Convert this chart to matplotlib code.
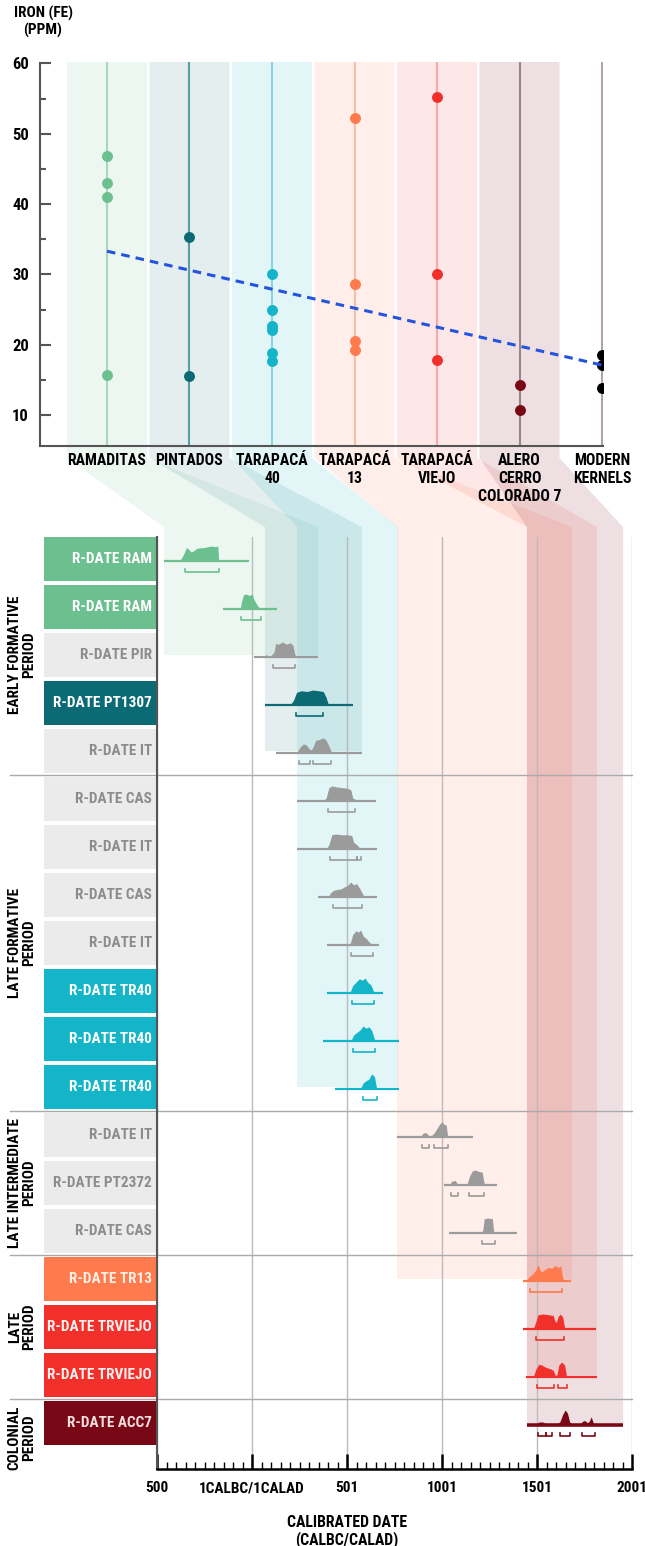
import matplotlib
matplotlib.use("Agg")
import matplotlib.pyplot as plt
from matplotlib import font_manager, transforms
from matplotlib.patches import Polygon, Rectangle
from matplotlib.ticker import MultipleLocator, FixedLocator

# ---------------- data: iron content per site ----------------
sites = ["RAMADITAS", "PINTADOS", "TARAPACÁ\n40", "TARAPACÁ\n13", "TARAPACÁ\nVIEJO",
         "ALERO\nCERRO\nCOLORADO 7", "MODERN\nKERNELS"]
iron_ppm = [
    [46.8, 43.0, 41.0, 15.7],
    [35.3, 15.6],
    [30.1, 25.0, 22.7, 22.1, 18.8, 17.7],
    [52.3, 28.7, 20.5, 19.3],
    [55.3, 30.0, 17.8],
    [14.2, 10.7],
    [18.5, 17.1, 13.8],
]
trend_ppm = [33.3, 17.1]  # dashed line, first site -> last site

# calibrated-date columns linked to each site (years, and the row where the column stops)
column_years = [(-463, 347), (68, 579), (237, 768), (763, 1684), (1447, 1816), (1447, 1953)]
column_end_row = [2.5, 4.5, 11.5, 15.5, 17.5, 18.5]

# ---------------- data: radiocarbon dates ----------------
date_labels = ["R-DATE RAM", "R-DATE RAM", "R-DATE PIR", "R-DATE PT1307", "R-DATE IT",
               "R-DATE CAS", "R-DATE IT", "R-DATE CAS", "R-DATE IT",
               "R-DATE TR40", "R-DATE TR40", "R-DATE TR40",
               "R-DATE IT", "R-DATE PT2372", "R-DATE CAS",
               "R-DATE TR13", "R-DATE TRVIEJO", "R-DATE TRVIEJO", "R-DATE ACC7"]
date_site = [0, 0, None, 1, None, None, None, None, None, 2, 2, 2,
             None, None, None, 3, 4, 4, 5]
periods = ["EARLY FORMATIVE\nPERIOD", "LATE FORMATIVE\nPERIOD",
           "LATE INTERMEDIATE\nPERIOD", "LATE\nPERIOD", "COLONIAL\nPERIOD"]
period_rows = [5, 7, 3, 3, 1]

date_range = [(-463, -16), (-153, 132), (11, 347), (68, 532), (126, 579),
              (237, 653), (237, 658), (347, 658), (395, 668), (395, 689),
              (374, 774), (437, 774), (763, 1163), (1011, 1289), (1037, 1395),
              (1426, 1679), (1426, 1810), (1442, 1815), (1447, 1953)]

curve_years = [
    [-380, -360, -345, -335, -320, -305, -290, -250, -215, -195, -180, -176, -130],
    [-62, -55, -45, -30, -15, 0, 8, 20, 33, 45, 60],
    [60, 72, 85, 100, 115, 125, 140, 160, 180, 200, 215, 225, 232],
    [200, 218, 235, 260, 290, 320, 350, 375, 390, 400, 430],
    [235, 250, 270, 285, 300, 310, 320, 335, 355, 370, 385, 400, 415, 425],
    [375, 390, 405, 420, 440, 470, 500, 520, 530, 545, 570],
    [390, 405, 420, 440, 470, 500, 525, 535, 550, 565, 580],
    [400, 415, 430, 450, 470, 490, 505, 520, 535, 550, 570, 590],
    [515, 530, 548, 560, 572, 585, 600, 620, 640],
    [515, 530, 550, 565, 580, 595, 610, 625, 640, 650],
    [520, 535, 555, 570, 585, 600, 615, 630, 645, 655],
    [570, 585, 600, 615, 625, 632, 645, 655, 662],
    [885, 900, 915, 930, 945, 960, 975, 990, 1000, 1010, 1022, 1030],
    [1040, 1050, 1070, 1085, 1130, 1145, 1160, 1175, 1195, 1212, 1220, 1226],
    [1205, 1215, 1222, 1240, 1265, 1272, 1280],
    [1440, 1460, 1480, 1495, 1505, 1515, 1525, 1545, 1560, 1580, 1595, 1610, 1625, 1635, 1645],
    [1480, 1492, 1505, 1530, 1560, 1585, 1595, 1602, 1612, 1622, 1635, 1645, 1655],
    [1480, 1495, 1510, 1525, 1545, 1570, 1585, 1597, 1605, 1615, 1630, 1645, 1655, 1665],
    [1495, 1510, 1530, 1550, 1600, 1620, 1635, 1648, 1660, 1672, 1685, 1725, 1740,
     1752, 1765, 1775, 1785, 1792, 1800],
]
curve_heights = [
    [0, .45, .9, .8, .6, .7, .85, .9, 1.0, .95, 1.0, .1, 0],
    [0, .5, .95, 1.0, .9, 1.0, .7, .4, .15, .05, 0],
    [0, .15, .1, .1, .3, .9, .85, 1.0, .85, .95, .8, .2, 0],
    [0, .3, .85, .95, .9, 1.0, .95, .9, .5, .1, 0],
    [0, .35, .6, .55, .3, .2, .35, .85, .9, 1.0, .95, .6, .15, 0],
    [0, .2, .9, 1.0, .95, .9, .85, .75, .2, .1, 0],
    [0, .3, .95, 1.0, .95, .95, .9, .45, .3, .1, 0],
    [0, .3, .45, .5, .55, .7, .8, 1.0, .8, .9, .5, 0],
    [0, .7, .95, .85, 1.0, .6, .45, .15, 0],
    [0, .5, .75, .95, .85, 1.0, .7, .55, .1, 0],
    [0, .4, .6, .75, 1.0, .85, .95, .7, .1, 0],
    [0, .4, .55, .65, .9, 1.0, .8, .1, 0],
    [0, .25, .3, .1, .1, .3, .6, .9, 1.0, .85, .8, 0],
    [0, .25, .3, 0, 0, .6, .95, 1.0, .9, .85, .2, 0],
    [0, .2, .95, 1.0, .95, .1, 0],
    [0, .3, .5, .75, 1.1, .75, .6, .8, .9, .85, 1.05, .9, 1.0, .2, 0],
    [0, .4, .95, 1.0, .95, .9, .5, .45, .85, 1.0, .8, .1, 0],
    [0, .55, .85, .8, .65, .55, .45, .1, .15, .8, 1.0, .8, .1, 0],
    [0, .2, .2, .05, .05, .2, .7, 1.0, .8, .2, .05, .05, .25, .3, .15, .25, .55, .3, 0],
]
brackets = [
    [(-353, -174)], [(-58, 47)], [(111, 226)], [(232, 374)], [(247, 305), (321, 416)],
    [(400, 542)], [(410, 553), (555, 575)], [(426, 579)], [(521, 637)], [(526, 642)],
    [(532, 647)], [(584, 658)], [(895, 932), (958, 1032)], [(1047, 1084), (1142, 1221)],
    [(1211, 1279)], [(1463, 1632)], [(1495, 1642)], [(1500, 1589), (1610, 1658)],
    [(1505, 1545), (1547, 1579), (1621, 1674), (1737, 1805)],
]
year_ticks = [-500, 0, 500, 1000, 1500, 2000]
year_tick_labels = ["500", "1CALBC/1CALAD", "501", "1001", "1501", "2001"]

# ---------------- styling ----------------
site_colors = ["#6cbf8e", "#0b6a73", "#14b5c8", "#ff7a4c", "#f2302b", "#780816", "#000000"]
site_lines = ["#a6d8ba", "#5a9ea5", "#86d5e1", "#f8bca7", "#f5a8a6", "#9c8487", "#b3a3a6"]
band_alpha = [0.12, 0.11, 0.12, 0.12, 0.11, 0.12]
label_text = ["white", "white", "white", "#fff0e8", "#fff0ee", "#f3dede"]
GREY_BOX, GREY_TXT, GREY_MARK = "#ebebeb", "#8c8c8c", "#9b9b9b"

W, H = 645, 1546
available = {f.name for f in font_manager.fontManager.ttflist}
if "Liberation Sans Narrow" in available:
    FONT, FS = "Liberation Sans Narrow", 11.5
elif "Roboto Condensed" in available:
    FONT, FS = "Roboto Condensed", 11
else:
    FONT, FS = "Roboto", 9.8
plt.rcParams["font.family"] = [FONT, "DejaVu Sans"]
plt.rcParams["font.weight"] = "bold"


def px_rect(x0, y0, x1, y1):
    return [x0 / W, 1 - y1 / H, (x1 - x0) / W, (y1 - y0) / H]


fig = plt.figure(figsize=(W / 100, H / 100), dpi=100)

# ---------------- top chart ----------------
ax = fig.add_axes(px_rect(40, 62, 603, 446))
ax.set_facecolor("none")
ax.set_xlim(-0.812, 6.012)
ax.set_ylim(5.59, 60.21)
for k, vals in enumerate(iron_ppm):
    ax.axvline(k, color=site_lines[k], lw=1.5, zorder=1)
    ax.scatter([k] * len(vals), vals, s=62, color=site_colors[k], zorder=3, linewidths=0)
ax.plot([0, len(sites) - 1], trend_ppm, ls=(0, (2.8, 2.0)), color="#2453e0", lw=2.2, zorder=4)

for s in ["top", "right"]:
    ax.spines[s].set_visible(False)
for s in ["left", "bottom"]:
    ax.spines[s].set_color("#555555")
    ax.spines[s].set_linewidth(1.5)
ax.spines["left"].set_bounds(5.59, 60)
ax.yaxis.set_major_locator(FixedLocator([10, 20, 30, 40, 50, 60]))
ax.yaxis.set_minor_locator(FixedLocator([15, 25, 35, 45, 55]))
ax.tick_params(axis="y", which="major", direction="in", length=8, width=1.5,
               color="#555555", labelsize=FS + 1, pad=8)
ax.tick_params(axis="y", which="minor", direction="in", length=4, width=1.5, color="#555555")
ax.set_xticks([])
for k, name in enumerate(sites):
    ax.annotate(name, xy=(k, 0), xycoords=("data", "axes fraction"), xytext=(0, -7),
                textcoords="offset pixels", ha="center", va="top", fontsize=FS + 0.3,
                linespacing=1.25, zorder=5)
fig.text(43 / W, 1 - 22 / H, "IRON (FE)\n(PPM)", ha="center", va="center",
         fontsize=FS, linespacing=1.25)

# ---------------- bottom chart ----------------
bx = fig.add_axes(px_rect(157, 537, 632, 1469))
bx.set_facecolor("none")
bx.set_xlim(-500, 2000)
n_rows = len(date_labels)
bx.set_ylim(n_rows + 22 / 48, 2 / 48)
blend = transforms.blended_transform_factory(bx.transAxes, bx.transData)

for i, label in enumerate(date_labels):
    k = date_site[i]
    box_col = GREY_BOX if k is None else site_colors[k]
    txt_col = GREY_TXT if k is None else label_text[k]
    mark = GREY_MARK if k is None else site_colors[k]
    bx.add_patch(Rectangle((-0.238, i + 2 / 48), 0.238, 44 / 48, transform=blend,
                           facecolor=box_col, edgecolor="none", clip_on=False))
    bx.text(-0.011, i + 0.5, label, transform=blend, ha="right", va="center",
            color=txt_col, fontsize=FS)
    base = i + 26 / 48
    ys = [base - h * 15 / 48 for h in curve_heights[i]]
    bx.fill_between(curve_years[i], ys, base, color=mark, lw=0, zorder=3)
    lw = 2.6 if i == n_rows - 1 else 1.6
    bx.plot(date_range[i], [base, base], color=mark, lw=lw, zorder=3,
            solid_capstyle="butt")
    yb = i + 37 / 48
    for a, b in brackets[i]:
        bx.plot([a, a, b, b], [yb - 3 / 48, yb, yb, yb - 3 / 48], color=mark, lw=1.2,
                zorder=3)

start = 0
for name, n in zip(periods, period_rows):
    bx.text(-0.285, start + n / 2 + (0.3 if n == 1 else 0), name, transform=blend,
            rotation=90, ha="center", va="center", multialignment="center",
            fontsize=FS, linespacing=1.0)
    start += n
    if start < n_rows:
        bx.plot([-0.31, 1.0], [start, start], transform=blend, color="#aaaaaa", lw=1,
                clip_on=False, zorder=2)

bx.set_xticks(year_ticks)
bx.set_xticklabels(year_tick_labels)
bx.xaxis.set_minor_locator(MultipleLocator(50))
bx.tick_params(axis="x", which="major", direction="in", length=11, width=1.8,
               labelsize=FS, pad=9)
bx.tick_params(axis="x", which="minor", direction="in", length=5, width=1.0)
bx.set_yticks([])
bx.grid(axis="x", which="major", color="#bbbbbb", lw=1)
for s in ["top", "right"]:
    bx.spines[s].set_visible(False)
bx.spines["bottom"].set_linewidth(1.8)
bx.spines["left"].set_color("#555555")
bx.spines["left"].set_linewidth(1.5)
bx.annotate("CALIBRATED DATE\n(CALBC/CALAD)", xy=(500, 0), xycoords=("data", "axes fraction"),
            xytext=(0, -46), textcoords="offset pixels", ha="center", va="top",
            fontsize=FS + 0.3, linespacing=1.1)

# ---------------- connector bands (top site band -> bottom date column) ----------------
Y_BEND, Y_COL = H - 458, H - 527
for k in range(len(column_years)):
    xl_t, y_t = ax.transData.transform((k - 0.485, 60.21))
    xr_t, _ = ax.transData.transform((k + 0.485, 60.21))
    xl_b, y_e = bx.transData.transform((column_years[k][0], column_end_row[k]))
    xr_b, _ = bx.transData.transform((column_years[k][1], column_end_row[k]))
    verts = [(xl_t, y_t), (xr_t, y_t), (xr_t, Y_BEND), (xr_b, Y_COL), (xr_b, y_e),
             (xl_b, y_e), (xl_b, Y_COL), (xl_t, Y_BEND)]
    fig.add_artist(Polygon(verts, closed=True, transform=transforms.IdentityTransform(),
                           facecolor=site_colors[k], alpha=band_alpha[k], lw=0, zorder=-1))

fig.savefig("out.png", dpi=100)
